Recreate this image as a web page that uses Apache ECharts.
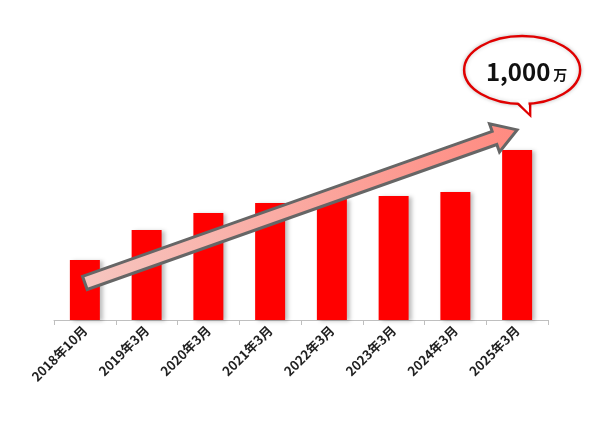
<!DOCTYPE html>
<html><head><meta charset="utf-8">
<script src="https://cdn.jsdelivr.net/npm/echarts@6/dist/echarts.min.js"></script>
<style>html,body{margin:0;padding:0;background:#fff}#c{width:600px;height:427px}</style>
</head><body><div id="c"></div>
<script>
const categories = ['2018年10月','2019年3月','2020年3月','2021年3月','2022年3月','2023年3月','2024年3月','2025年3月'];
const values = [353, 529, 629, 688, 712, 729, 753, 1000];
const calloutValue = '1,000';
const calloutUnit = '万';
const arrowFrom = [-0.4, 218];
const arrowTo = [6.8, 1118];

const chart = echarts.init(document.getElementById('c'));
chart.setOption({
  animation: false,
  grid: {left: 54, right: 52, top: 0, bottom: 107},
  xAxis: {
    type: 'category', data: categories,
    axisLine: {lineStyle: {color: '#bfbfbf'}},
    axisTick: {show: true, lineStyle: {color: '#bfbfbf'}},
    axisLabel: {rotate: 45, interval: 0, color: '#222', fontWeight: 'bold', fontSize: 13, fontFamily: 'Noto Sans CJK JP', margin: 8}
  },
  yAxis: {type: 'value', min: 0, max: 1882, show: false, splitLine: {show: false}},
  series: [{
    type: 'bar', data: values, barWidth: 30,
    itemStyle: {color: '#ff0000', shadowColor: 'rgba(0,0,0,0.25)', shadowBlur: 4, shadowOffsetX: 3, shadowOffsetY: 1}
  }]
});

const p0 = chart.convertToPixel({gridIndex: 0}, arrowFrom);
const p1 = chart.convertToPixel({gridIndex: 0}, arrowTo);
const dx = p1[0]-p0[0], dy = p1[1]-p0[1];
const L = Math.hypot(dx, dy), ux = dx/L, uy = dy/L, nx = -uy, ny = ux;
const sw = 7, hw = 15, hl = 24;
function pt(a, b){ return [p0[0]+ux*a+nx*b, p0[1]+uy*a+ny*b]; }
const poly = [pt(0,-sw), pt(L-hl,-sw), pt(L-hl,-hw), pt(L,0), pt(L-hl,hw), pt(L-hl,sw), pt(0,sw)];

const bx = p1[0]+5, by = 70;
chart.setOption({graphic: [
  {type: 'polygon', shape: {points: poly}, style: {fill: new echarts.graphic.LinearGradient(0,0,1,0,[{offset:0,color:'#f6c6c0'},{offset:1,color:'#ff8a80'}]), stroke: '#666', lineWidth: 3}, z: 10},
  {type: 'polygon', shape: {points: [[bx-8, by+30], [bx+8, by+45], [bx+8, by+28]]}, style: {fill: '#fff', stroke: '#e00000', lineWidth: 2.5}, z: 11},
  {type: 'ellipse', shape: {cx: bx, cy: by, rx: 58, ry: 34}, style: {fill: '#fff', stroke: '#e00000', lineWidth: 2.5, shadowColor:'rgba(0,0,0,0.2)', shadowBlur:4}, z: 11},
  {type: 'polygon', shape: {points: [[bx-6, by+30], [bx+7, by+43], [bx+6, by+29]]}, style: {fill: '#fff'}, z: 12},
  {type: 'text', x: bx-4, y: by+2, style: {text: calloutValue, font: 'bold 24px "Noto Sans CJK JP"', fill: '#111', align: 'center', verticalAlign: 'middle'}, z: 13},
  {type: 'text', x: bx+38, y: by+5, style: {text: calloutUnit, font: 'bold 14px "Noto Sans CJK JP"', fill: '#111', align: 'center', verticalAlign: 'middle'}, z: 13}
]});
</script></body></html>
